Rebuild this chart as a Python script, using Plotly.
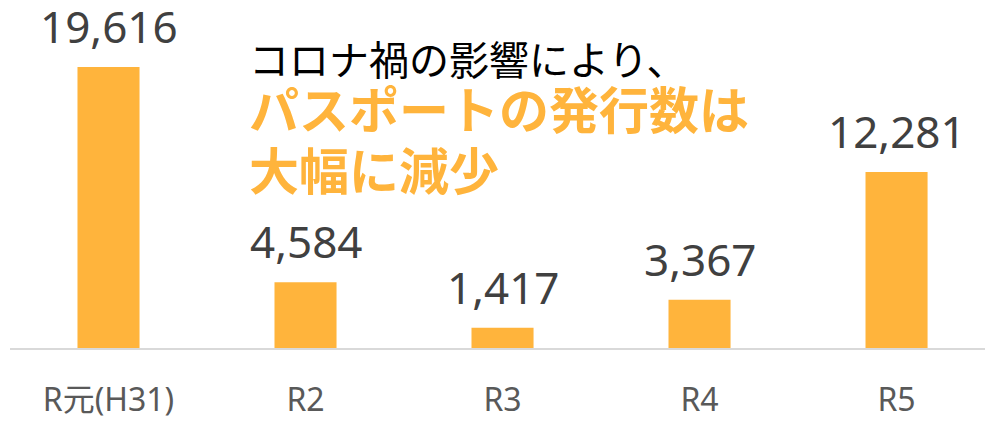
import plotly.graph_objects as go

categories = ["R元(H31)", "R2", "R3", "R4", "R5"]
values = [19616, 4584, 1417, 3367, 12281]
value_labels = ["19,616", "4,584", "1,417", "3,367", "12,281"]

note_line1 = "コロナ禍の影響により、"
note_line2 = "パスポートの発行数は"
note_line3 = "大幅に減少"

BAR = "#FFB43C"
TXT = "#404040"
FONT = "Noto Sans, Noto Sans CJK JP, sans-serif"
JP = "Noto Sans CJK JP, sans-serif"

fig = go.Figure()
fig.add_trace(go.Bar(
    x=list(range(len(categories))), y=values,
    marker=dict(color=BAR, line=dict(width=0)),
    width=0.315, hoverinfo="skip", showlegend=False,
))

for i, (v, lab) in enumerate(zip(values, value_labels)):
    fig.add_annotation(x=i, y=v, xref="x", yref="y", text=lab, showarrow=False,
                       yanchor="bottom", yshift=9,
                       font=dict(family=FONT, size=44, color=TXT))

fig.add_annotation(x=0.243, y=0.834, xref="paper", yref="paper", text=note_line1,
                   showarrow=False, xanchor="left", yanchor="middle",
                   font=dict(family=JP, size=40, color="#000000"))
fig.add_annotation(x=0.243, y=0.692, xref="paper", yref="paper", text="<b>" + note_line2 + "</b>",
                   showarrow=False, xanchor="left", yanchor="middle",
                   font=dict(family=JP, size=50, color=BAR))
fig.add_annotation(x=0.243, y=0.518, xref="paper", yref="paper", text="<b>" + note_line3 + "</b>",
                   showarrow=False, xanchor="left", yanchor="middle",
                   font=dict(family=JP, size=50, color=BAR))

fig.update_layout(
    width=985, height=431,
    margin=dict(l=10, r=0, t=0, b=83),
    paper_bgcolor="white", plot_bgcolor="white",
    xaxis=dict(range=[-0.5, 4.449], tickmode="array",
               tickvals=list(range(len(categories))), ticktext=categories,
               showgrid=False, zeroline=False, showline=True,
               linecolor="#D9D9D9", linewidth=1.5, ticks="",
               ticklabelstandoff=23,
               tickfont=dict(family=FONT, size=32, color="#595959")),
    yaxis=dict(range=[0, 24290], visible=False, showgrid=False, zeroline=False),
)

fig.write_html("out.html", config={"displayModeBar": False},
               post_script="document.body.style.margin='0';document.body.style.overflow='hidden';")
